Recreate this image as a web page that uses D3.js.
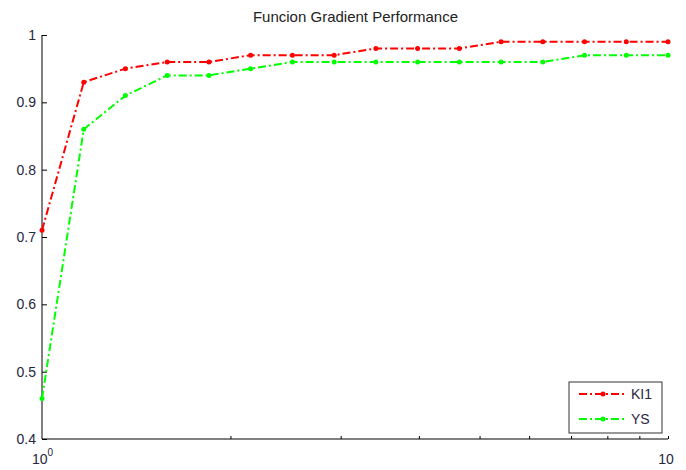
<!DOCTYPE html>
<html>
<head>
<meta charset="utf-8">
<script src="https://cdn.jsdelivr.net/npm/d3@7"></script>
<style>
  body { margin: 0; background: #fff; }
  text { font-family: Arial, "Liberation Sans", sans-serif; }
</style>
</head>
<body>
<svg id="chart" width="686" height="470"></svg>
<script>
// x values (logspace 1..10, 16 points)
const xValues = [1, 1.166, 1.359, 1.585, 1.848, 2.154, 2.512, 2.929, 3.415, 3.981, 4.642, 5.412, 6.310, 7.356, 8.577, 10];
const ki1 = [0.71, 0.93, 0.95, 0.96, 0.96, 0.97, 0.97, 0.97, 0.98, 0.98, 0.98, 0.99, 0.99, 0.99, 0.99, 0.99];
const ys = [0.46, 0.86, 0.91, 0.94, 0.94, 0.95, 0.96, 0.96, 0.96, 0.96, 0.96, 0.96, 0.96, 0.97, 0.97, 0.97];
const seriesNames = ["KI1", "YS"];
const seriesColors = ["#ff0000", "#00ff00"];
const yTicks = [0.4, 0.5, 0.6, 0.7, 0.8, 0.9, 1];
const xMinorTicks = [2, 3, 4, 5, 6, 7, 8, 9];
const title = "Funcion Gradient Performance";

const margin = {top: 35, right: 18, bottom: 31, left: 42}
    , width = 686 - margin.left - margin.right
    , height = 470 - margin.top - margin.bottom;

const xScale = d3.scaleLog().domain([1, 10]).range([0, width]);
const yScale = d3.scaleLinear().domain([0.4, 1]).range([height, 0]);

const svg = d3.select("#chart")
  .append("g")
  .attr("transform", "translate(" + margin.left + "," + margin.top + ")");

const textColor = "#262640";

// title
svg.append("text")
  .attr("x", width / 2 + 0.5)
  .attr("y", -13)
  .attr("text-anchor", "middle")
  .attr("font-size", 15)
  .attr("fill", "#222")
  .text(title);

// y axis, ticks inward
const yAxis = svg.append("g")
  .call(d3.axisRight(yScale).tickValues(yTicks).tickSize(5).tickFormat(d3.format("")));
yAxis.select(".domain").remove();
yAxis.selectAll(".tick line").attr("stroke", "#000");
yAxis.selectAll(".tick text")
  .attr("x", -6)
  .attr("text-anchor", "end")
  .attr("font-size", 14)
  .attr("fill", textColor);
svg.append("line")
  .attr("x1", 0).attr("x2", 0).attr("y1", 0).attr("y2", height)
  .attr("stroke", "#000").attr("stroke-width", 1);

// x axis
const xAxis = svg.append("g")
  .attr("transform", "translate(0," + height + ")")
  .call(d3.axisTop(xScale).tickValues(xMinorTicks.concat([10])).tickSize(3).tickFormat(""));
xAxis.select(".domain").remove();
xAxis.selectAll(".tick line").attr("stroke", "#000");
svg.append("line")
  .attr("x1", 0).attr("x2", width).attr("y1", height).attr("y2", height)
  .attr("stroke", "#000").attr("stroke-width", 1);

// x labels
const x0 = svg.append("text")
  .attr("x", xScale(1) - 10)
  .attr("y", height + 25)
  .attr("font-size", 14)
  .attr("fill", textColor);
x0.append("tspan").text("10");
x0.append("tspan").attr("dy", -8).attr("font-size", 10).text("0");
svg.append("text")
  .attr("x", xScale(10) - 2)
  .attr("y", height + 25)
  .attr("text-anchor", "middle")
  .attr("font-size", 14)
  .attr("fill", textColor)
  .text("10");

// lines
const line = d3.line()
  .x((d, i) => xScale(xValues[i]))
  .y(d => yScale(d));

const dash = "8,3,2,3";
[ki1, ys].forEach((vals, k) => {
  svg.append("path")
    .datum(vals)
    .attr("fill", "none")
    .attr("stroke", seriesColors[k])
    .attr("stroke-width", 2)
    .attr("stroke-dasharray", dash)
    .attr("d", line);
  svg.selectAll(".dot" + k)
    .data(vals)
    .enter().append("circle")
    .attr("cx", (d, i) => xScale(xValues[i]))
    .attr("cy", d => yScale(d))
    .attr("r", 2.5)
    .attr("fill", seriesColors[k]);
});

// legend
const legend = svg.append("g")
  .attr("transform", "translate(" + (569 - margin.left) + "," + (382 - margin.top) + ")");
legend.append("rect")
  .attr("width", 93).attr("height", 51)
  .attr("fill", "#fff").attr("stroke", "#333").attr("stroke-width", 1);
seriesNames.forEach((name, k) => {
  const ly = 12 + k * 25;
  legend.append("line")
    .attr("x1", 10).attr("x2", 58).attr("y1", ly).attr("y2", ly)
    .attr("stroke", seriesColors[k]).attr("stroke-width", 2)
    .attr("stroke-dasharray", dash);
  legend.append("circle")
    .attr("cx", 34).attr("cy", ly).attr("r", 2.5)
    .attr("fill", seriesColors[k]);
  legend.append("text")
    .attr("x", 62).attr("y", ly + 5)
    .attr("font-size", 14)
    .attr("fill", textColor)
    .text(name);
});
</script>
</body>
</html>
